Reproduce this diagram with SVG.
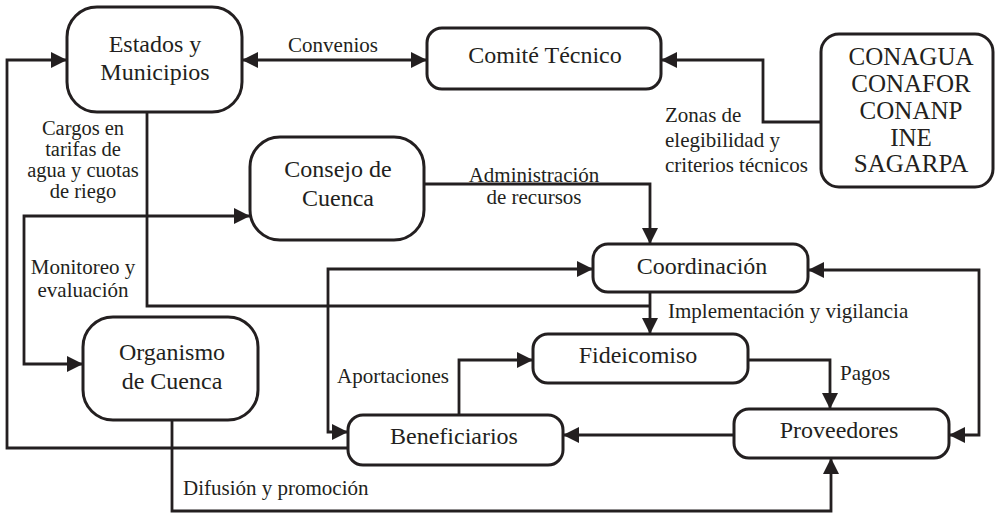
<svg xmlns="http://www.w3.org/2000/svg" width="995" height="513" viewBox="0 0 995 513">
<defs>
<marker id="ah" markerUnits="userSpaceOnUse" markerWidth="16" markerHeight="16" refX="16" refY="8" orient="auto-start-reverse" viewBox="0 0 16 16"><path d="M0,0 L16,8 L0,16 Z" fill="#231f20"/></marker>
</defs>
<style>
.box{fill:#fff;stroke:#231f20;stroke-width:3}
.ln{fill:none;stroke:#231f20;stroke-width:2.8}
.e{marker-end:url(#ah)}
.b{marker-start:url(#ah);marker-end:url(#ah)}
text{font-family:'Liberation Serif','Times New Roman',serif;fill:#231f20}
.n{font-size:24px;text-anchor:middle}
.g{font-size:25px;text-anchor:middle}
.l{font-size:21px}
.s{font-size:20.5px}
.c{text-anchor:middle}
</style>
<rect width="995" height="513" fill="#fff"/>
<g id="connectors">
<path class="ln b" d="M242,60 H427"/>
<path class="ln e" d="M821,122 H763 V60 H661"/>
<path class="ln" d="M147,112 V306 H650"/>
<path class="ln e" d="M650,292 V334"/>
<path class="ln e" d="M424,184 H650 V244"/>
<path class="ln b" d="M250,216 H24 V364 H83"/>
<path class="ln b" d="M593,269 H328 V432 H348"/>
<path class="ln e" d="M459,415 V360 H533"/>
<path class="ln e" d="M748,360 H830 V409"/>
<path class="ln b" d="M808,270 H979 V435 H949"/>
<path class="ln e" d="M734,435 H563"/>
<path class="ln e" d="M348,448 H7 V60 H67"/>
<path class="ln e" d="M172,420 V511 H831 V458"/>
<text class="l c" x="333" y="52">Convenios</text>
<text class="l" x="665" y="122">Zonas de</text>
<text class="l" x="665" y="147">elegibilidad y</text>
<text class="l" x="665" y="172">criterios técnicos</text>
<text class="s c" x="83" y="135">Cargos en</text>
<text class="s c" x="83" y="156">tarifas de</text>
<text class="s c" x="83" y="177">agua y cuotas</text>
<text class="s c" x="83" y="198">de riego</text>
<text class="l c" x="534" y="182">Administración</text>
<text class="l c" x="534" y="204">de recursos</text>
<text class="l c" x="83" y="274">Monitoreo y</text>
<text class="l c" x="83" y="297">evaluación</text>
<text class="l" x="668" y="318">Implementación y vigilancia</text>
<text class="l" x="337" y="383">Aportaciones</text>
<text class="l" x="840" y="380">Pagos</text>
<text class="l" x="183" y="495">Difusión y promoción</text>
</g>
<g id="estados">
<rect class="box" x="67" y="7" width="175" height="105" rx="30"/>
<text class="n" x="155" y="52">Estados y</text>
<text class="n" x="155" y="80">Municipios</text>
</g>
<g id="comite">
<rect class="box" x="427" y="28" width="234" height="61" rx="15"/>
<text class="n" x="545" y="63">Comité Técnico</text>
</g>
<g id="conagua">
<rect class="box" x="821" y="34" width="172" height="153" rx="18"/>
<text class="g" x="911" y="65">CONAGUA</text>
<text class="g" x="911" y="92">CONAFOR</text>
<text class="g" x="911" y="119">CONANP</text>
<text class="g" x="911" y="146">INE</text>
<text class="g" x="911" y="172">SAGARPA</text>
</g>
<g id="consejo">
<rect class="box" x="250" y="137" width="174" height="103" rx="30"/>
<text class="n" x="338" y="177">Consejo de</text>
<text class="n" x="338" y="206">Cuenca</text>
</g>
<g id="organismo">
<rect class="box" x="83" y="317" width="175" height="103" rx="30"/>
<text class="n" x="172" y="360">Organismo</text>
<text class="n" x="172" y="389">de Cuenca</text>
</g>
<g id="coordinacion">
<rect class="box" x="593" y="244" width="215" height="48" rx="15"/>
<text class="n" x="702" y="274">Coordinación</text>
</g>
<g id="fideicomiso">
<rect class="box" x="533" y="334" width="215" height="49" rx="15"/>
<text class="n" x="638" y="363">Fideicomiso</text>
</g>
<g id="beneficiarios">
<rect class="box" x="348" y="415" width="215" height="50" rx="15"/>
<text class="n" x="454" y="444">Beneficiarios</text>
</g>
<g id="proveedores">
<rect class="box" x="734" y="409" width="215" height="49" rx="15"/>
<text class="n" x="839" y="438">Proveedores</text>
</g>
</svg>
